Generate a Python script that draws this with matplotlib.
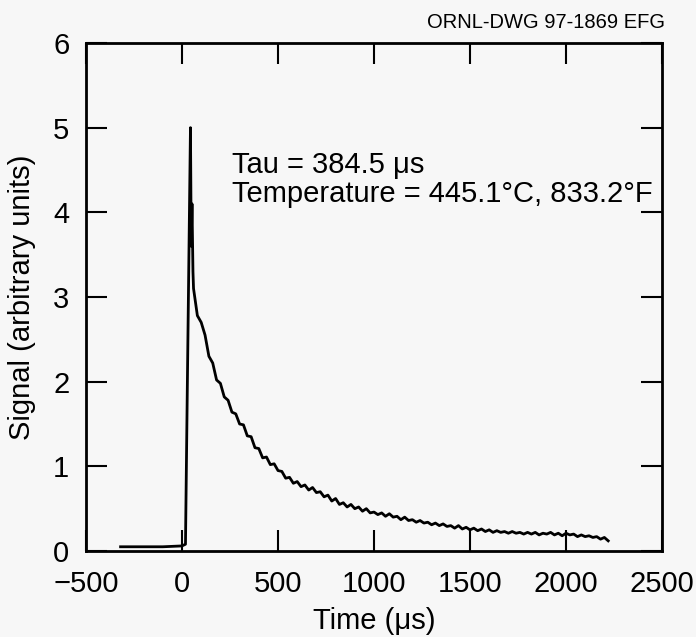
import numpy as np
import matplotlib.pyplot as plt

plt.rcParams['font.family'] = ['Liberation Sans', 'DejaVu Sans']

# pre-trigger baseline and the laser pulse (µs, arbitrary units)
pulse_t = [-320, -200, -100, 0, 18, 28, 44, 48, 52, 57]
pulse_y = [0.05, 0.05, 0.05, 0.06, 0.08, 2.0, 5.0, 3.6, 4.1, 3.3]

# decay, every 20 µs from 60 to 2220
decay_t = np.arange(60, 2221, 20)
decay_y = [
    3.10, 2.78, 2.70, 2.55, 2.30, 2.22, 2.02, 1.98, 1.82, 1.78,
    1.64, 1.62, 1.50, 1.49, 1.36, 1.35, 1.22, 1.21, 1.10, 1.11,
    1.02, 1.03, 0.95, 0.94, 0.86, 0.87, 0.80, 0.82, 0.76, 0.78,
    0.72, 0.75, 0.69, 0.70, 0.64, 0.66, 0.59, 0.62, 0.55, 0.57,
    0.52, 0.55, 0.50, 0.52, 0.47, 0.50, 0.45, 0.46, 0.43, 0.45,
    0.41, 0.44, 0.40, 0.41, 0.37, 0.40, 0.36, 0.37, 0.34, 0.36,
    0.33, 0.34, 0.31, 0.33, 0.30, 0.32, 0.29, 0.30, 0.27, 0.30,
    0.26, 0.28, 0.25, 0.27, 0.24, 0.26, 0.23, 0.25, 0.22, 0.24,
    0.22, 0.23, 0.21, 0.23, 0.21, 0.22, 0.20, 0.22, 0.20, 0.22,
    0.19, 0.21, 0.20, 0.22, 0.19, 0.21, 0.18, 0.21, 0.19, 0.20,
    0.17, 0.19, 0.17, 0.18, 0.16, 0.17, 0.14, 0.16, 0.12,
]

xticks = [-500, 0, 500, 1000, 1500, 2000, 2500]
yticks = [0, 1, 2, 3, 4, 5, 6]

bg = '#f7f7f7'
fig = plt.figure(figsize=(6.96, 6.37), dpi=100, facecolor=bg)
ax = fig.add_axes([0.1236, 0.135, 0.8275, 0.7975], facecolor=bg)

t = list(pulse_t) + list(decay_t)
y = list(pulse_y) + list(decay_y)
ax.plot(t, y, color='black', lw=2.0)

ax.set_xlim(-500, 2500)
ax.set_ylim(0, 6)
ax.set_xticks(xticks)
ax.set_yticks(yticks)
ax.set_xticklabels(['\u2212500'] + [str(v) for v in xticks[1:]])
ax.tick_params(direction='in', length=15, width=1.5, labelsize=21,
               top=True, right=True)
ax.tick_params(axis='x', pad=14)
ax.tick_params(axis='y', pad=12)
for s in ax.spines.values():
    s.set_linewidth(2)

ax.set_xlabel('Time (\u03bcs)', fontsize=21, labelpad=6)
ax.set_ylabel('Signal (arbitrary units)', fontsize=21, labelpad=12)

ax.text(0.2535, 0.76, 'Tau = 384.5 \u03bcs', transform=ax.transAxes,
        fontsize=21, va='center', ha='left')
ax.text(0.2535, 0.703, 'Temperature = 445.1\u00b0C, 833.2\u00b0F',
        transform=ax.transAxes, fontsize=21, va='center', ha='left')

fig.text(0.955, 0.965, 'ORNL-DWG 97-1869 EFG', fontsize=14.5,
         ha='right', va='center')

fig.savefig('out.png', dpi=100, facecolor=bg)
